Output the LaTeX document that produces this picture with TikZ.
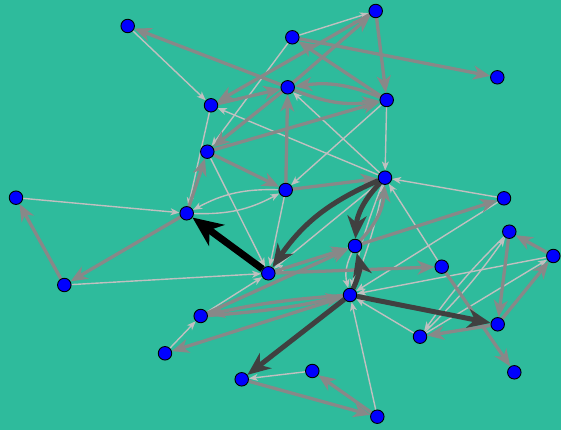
\documentclass[tikz,border=0pt]{standalone}
\usetikzlibrary{arrows.meta}
\definecolor{bgteal}{RGB}{46,187,156}
\definecolor{ltedge}{RGB}{192,192,192}
\definecolor{mdedge}{RGB}{136,136,136}
\definecolor{dkedge}{RGB}{64,64,64}
\pgfdeclarelayer{bg}
\pgfdeclarelayer{edges}
\pgfsetlayers{bg,edges,main}
\begin{document}
\begin{tikzpicture}[x=1pt,y=1pt,
  vtx/.style={circle,draw=black,line width=0.9pt,fill=blue,minimum size=13.5pt,inner sep=0pt},
  lt/.style={draw=ltedge,line width=1.4pt,-{Stealth[length=9pt,width=7pt,inset=2.5pt]}},
  md/.style={draw=mdedge,line width=3.3pt,-{Stealth[length=17pt,width=14pt,inset=5pt]}},
  dk/.style={draw=dkedge,line width=5pt,-{Stealth[length=23pt,width=19pt,inset=7pt]}},
  bk/.style={draw=black,line width=7pt,-{Stealth[length=30pt,width=26pt,inset=9pt]}},
  pair/.style={bend right=#1},
  pair/.default=15
]
\begin{pgfonlayer}{bg}
  \fill[bgteal] (0,0) rectangle (561,-430);
\end{pgfonlayer}
\useasboundingbox (0,0) rectangle (561,-430);

% vertices
\node[vtx] (A)  at (127.7,-26)   {};
\node[vtx] (B)  at (375.7,-11)   {};
\node[vtx] (C)  at (292.3,-37.3) {};
\node[vtx] (D)  at (497.3,-77.3) {};
\node[vtx] (E)  at (211,-105.3)  {};
\node[vtx] (F)  at (287.7,-87.3) {};
\node[vtx] (G)  at (386.7,-100)  {};
\node[vtx] (H)  at (207.3,-151.7){};
\node[vtx] (I)  at (285.7,-190)  {};
\node[vtx] (J)  at (385,-177.7)  {};
\node[vtx] (K)  at (16,-197.7)   {};
\node[vtx] (L)  at (186.7,-213.3){};
\node[vtx] (M)  at (504,-198.3)  {};
\node[vtx] (N)  at (509.3,-231.7){};
\node[vtx] (O)  at (355,-246)    {};
\node[vtx] (P)  at (553.3,-256)  {};
\node[vtx] (Q)  at (441.7,-266.7){};
\node[vtx] (R)  at (268.3,-273.3){};
\node[vtx] (S)  at (64.3,-285)   {};
\node[vtx] (T)  at (350,-295)    {};
\node[vtx] (U)  at (200.7,-316)  {};
\node[vtx] (V)  at (497.7,-324.3){};
\node[vtx] (W)  at (420,-336.7)  {};
\node[vtx] (X)  at (165,-353.3)  {};
\node[vtx] (Y)  at (312.3,-371)  {};
\node[vtx] (Z)  at (514.3,-372.3){};
\node[vtx] (AA) at (241.7,-379.3){};
\node[vtx] (AB) at (377.3,-416.7){};

\begin{pgfonlayer}{edges}
% light edges
\draw[lt] (A) -- (E);
\draw[lt] (C) -- (B);
\draw[lt] (C) -- (H);
\draw[lt] (G) -- (I);
\draw[lt] (G) -- (J);
\draw[lt] (J) -- (E);
\draw[lt] (J) -- (F);
\draw[lt] (E) -- (L);
\draw[lt] (H) -- (R);
\draw[lt] (L) to[pair] (I);
\draw[lt] (I) to[pair] (L);
\draw[lt] (I) -- (R);
\draw[lt] (K) -- (L);
\draw[lt] (S) -- (R);
\draw[lt] (J) -- (R);
\draw[lt] (O) -- (R);
\draw[lt] (Q) -- (J);
\draw[lt] (M) -- (J);
\draw[lt] (M) -- (T);
\draw[lt] (P) -- (T);
\draw[lt] (W) -- (T);
\draw[lt] (O) to[pair=20] (T);
\draw[lt] (J) to[pair=5] (T);
\draw[lt] (T) to[pair=5] (J);
\draw[lt] (W) to[pair=5] (N);
\draw[lt] (N) to[pair=5] (W);
\draw[lt] (W) -- (P);
\draw[lt] (X) -- (U);
\draw[lt] (U) -- (R);
\draw[lt] (Y) -- (AA);
\draw[lt] (AB) -- (T);
% medium edges
\draw[md] (F) -- (A);
\draw[md] (C) -- (D);
\draw[md] (B) -- (G);
\draw[md] (G) -- (C);
\draw[md] (B) -- (E);
\draw[md] (F) -- (B);
\draw[md] (E) -- (F);
\draw[md] (F) to[pair] (G);
\draw[md] (G) to[pair] (F);
\draw[md] (H) -- (G);
\draw[md] (F) -- (H);
\draw[md] (I) -- (F);
\draw[md] (H) -- (I);
\draw[md] (L) -- (H);
\draw[md] (I) -- (J);
\draw[md] (S) -- (K);
\draw[md] (L) -- (S);
\draw[md] (R) -- (O);
\draw[md] (U) -- (O);
\draw[md] (O) to[pair=20] (J);
\draw[md] (R) -- (Q);
\draw[md] (O) -- (M);
\draw[md] (Q) -- (Z);
\draw[md] (N) -- (V);
\draw[md] (P) -- (N);
\draw[md] (V) -- (P);
\draw[md] (V) -- (W);
\draw[md] (U) to[pair=4] (T);
\draw[md] (T) to[pair=4] (U);
\draw[md] (T) -- (X);
\draw[md] (AA) -- (AB);
\draw[md] (AB) -- (Y);
% dark edges
\draw[dk] (J) to[pair=16] (R);
\draw[dk] (J) to[pair=20] (O);
\draw[dk] (T) to[pair=20] (O);
\draw[dk] (T) -- (V);
\draw[dk] (T) -- (AA);
% heaviest edge
\draw[bk] (R) -- (L);
\end{pgfonlayer}
\end{tikzpicture}
\end{document}
